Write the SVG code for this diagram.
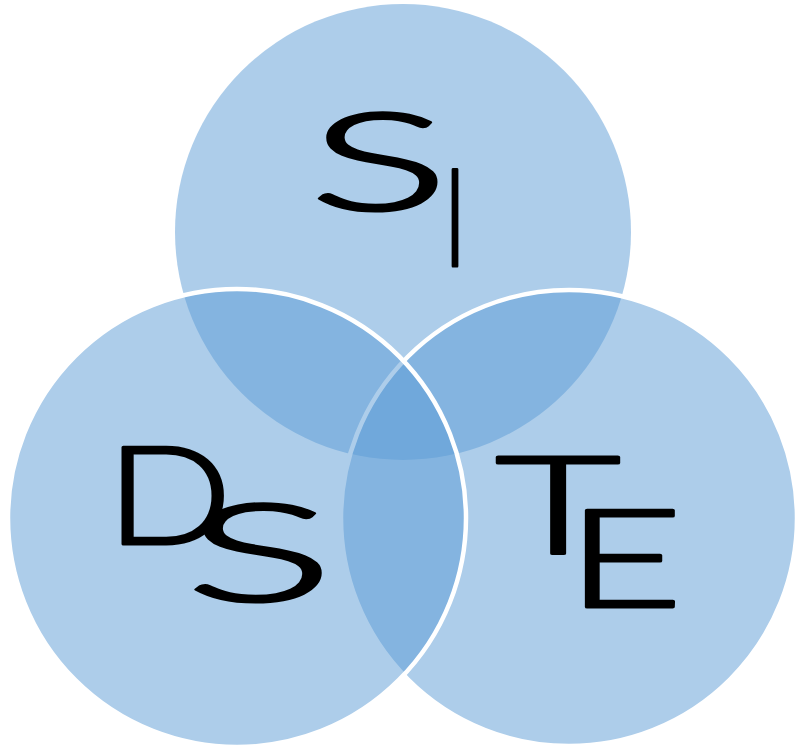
<svg xmlns="http://www.w3.org/2000/svg" width="795" height="748" viewBox="0 0 795 748">
<style>
.c{fill:#5B9BD5;fill-opacity:0.5}
.s{stroke:#FFFFFF;stroke-width:4.5}
.t{font-family:Lato,"Open Sans","DejaVu Sans",sans-serif;font-weight:300;fill:#000000;stroke:#000000;stroke-width:3;stroke-linejoin:round;font-size:136px}
</style>
<rect width="795" height="748" fill="#FFFFFF"/>
<g id="node-si">
<circle class="c" cx="403" cy="232" r="228"/>
</g>
<g id="node-te">
<circle class="c s" cx="569" cy="518" r="228"/>
</g>
<g id="node-ds">
<circle class="c s" cx="237" cy="518" r="229"/>
</g>
<g id="labels">
<text class="t" x="309" y="210" textLength="140" lengthAdjust="spacingAndGlyphs">S</text>
<text class="t" x="443" y="266" textLength="24" lengthAdjust="spacingAndGlyphs" font-size="135">I</text>
<text class="t" x="106" y="544" textLength="126" lengthAdjust="spacingAndGlyphs">D</text>
<text class="t" x="185" y="601" textLength="149" lengthAdjust="spacingAndGlyphs">S</text>
<text class="t" x="495" y="554" textLength="126" lengthAdjust="spacingAndGlyphs" font-size="140">T</text>
<text class="t" x="566" y="607" textLength="117" lengthAdjust="spacingAndGlyphs" font-size="150">E</text>
</g>
</svg>
